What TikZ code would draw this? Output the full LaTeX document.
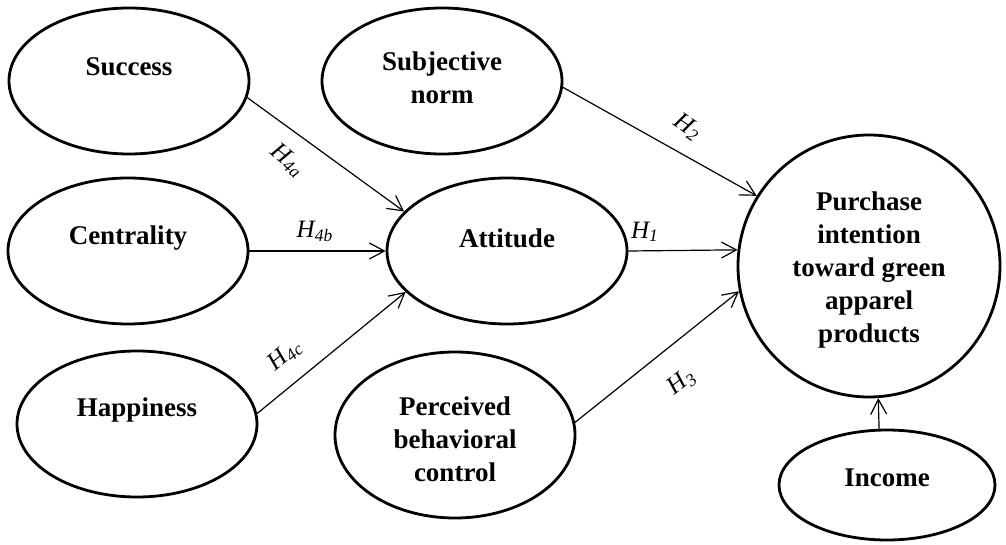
\documentclass[tikz,border=0pt]{standalone}
\usepackage{fontspec}
\setmainfont{Liberation Serif}
\usepackage{tikz}
\usetikzlibrary{shapes}
\usetikzlibrary{arrows.meta}
\tikzstyle{Latent}=[ellipse,draw=black,line width=1.4pt,inner sep=0pt,
minimum width=120pt,minimum height=73pt]
\tikzstyle{Name}=[align=center,font=\bfseries\fontsize{13.5}{16.5}\selectfont]
\tikzstyle{Edge}=[draw=black,line width=0.6pt,
-{Straight Barb[length=7.5pt,width=8pt]}]
\tikzstyle{Hyp}=[inner sep=1pt,font=\itshape\fontsize{12.5}{15}\selectfont]

\begin{document}
\begin{tikzpicture}[x=0.5pt,y=-0.5pt]
        \useasboundingbox (0,0) rectangle (1006,545);
        \node[Latent](suc)at(129,81){};
        \node[Latent](cen)at(128,251){};
        \node[Latent](hap)at(137,424){};
        \node[Latent](sub)at(442,81){};
        \node[Latent](att)at(507,251){};
        \node[Latent,minimum height=83pt](pbc)at(455,435){};
        \node[Latent,circle,minimum size=131pt](pur)at(869,266){};
        \node[Latent,minimum width=108pt,minimum height=55pt](inc)at(887,485){};
        \node[Name](sucT)at(129,67){Success};
        \node[Name](cenT)at(128,238){Centrality};
        \node[Name](hapT)at(137,410){Happiness};
        \node[Name](subT)at(442,78){Subjective\\norm};
        \node[Name](attT)at(507,238){Attitude};
        \node[Name](pbcT)at(455,439){Perceived\\behavioral\\control};
        \node[Name](purT)at(869,270){Purchase\\intention\\toward green\\apparel\\products};
        \node[Name](incT)at(887,478){Income};
        \draw[Edge](suc.-8)--(att.159);
        \draw[Edge](cen.east)--(att.west);
        \draw[Edge](hap.5)--(att.202);
        \draw[Edge](sub.-3)--(pur.148);
        \draw[Edge](att.east)--(pur.173.4);
        \draw[Edge](pbc.6)--(pur.191);
        \draw[Edge](inc.98)--(pur.274);
        \node[Hyp,rotate=-40](h4a)at(288,160){H\textsubscript{4a}};
        \node[Hyp](h4b)at(315,231){H\textsubscript{4b}};
        \node[Hyp,rotate=40](h4c)at(285,355){H\textsubscript{4c}};
        \node[Hyp](h1)at(645,232){H\textsubscript{1}};
        \node[Hyp,rotate=-35](h2)at(688,127){H\textsubscript{2}};
        \node[Hyp,rotate=38](h3)at(682,382){H\textsubscript{3}};
    \end{tikzpicture}
\end{document}
